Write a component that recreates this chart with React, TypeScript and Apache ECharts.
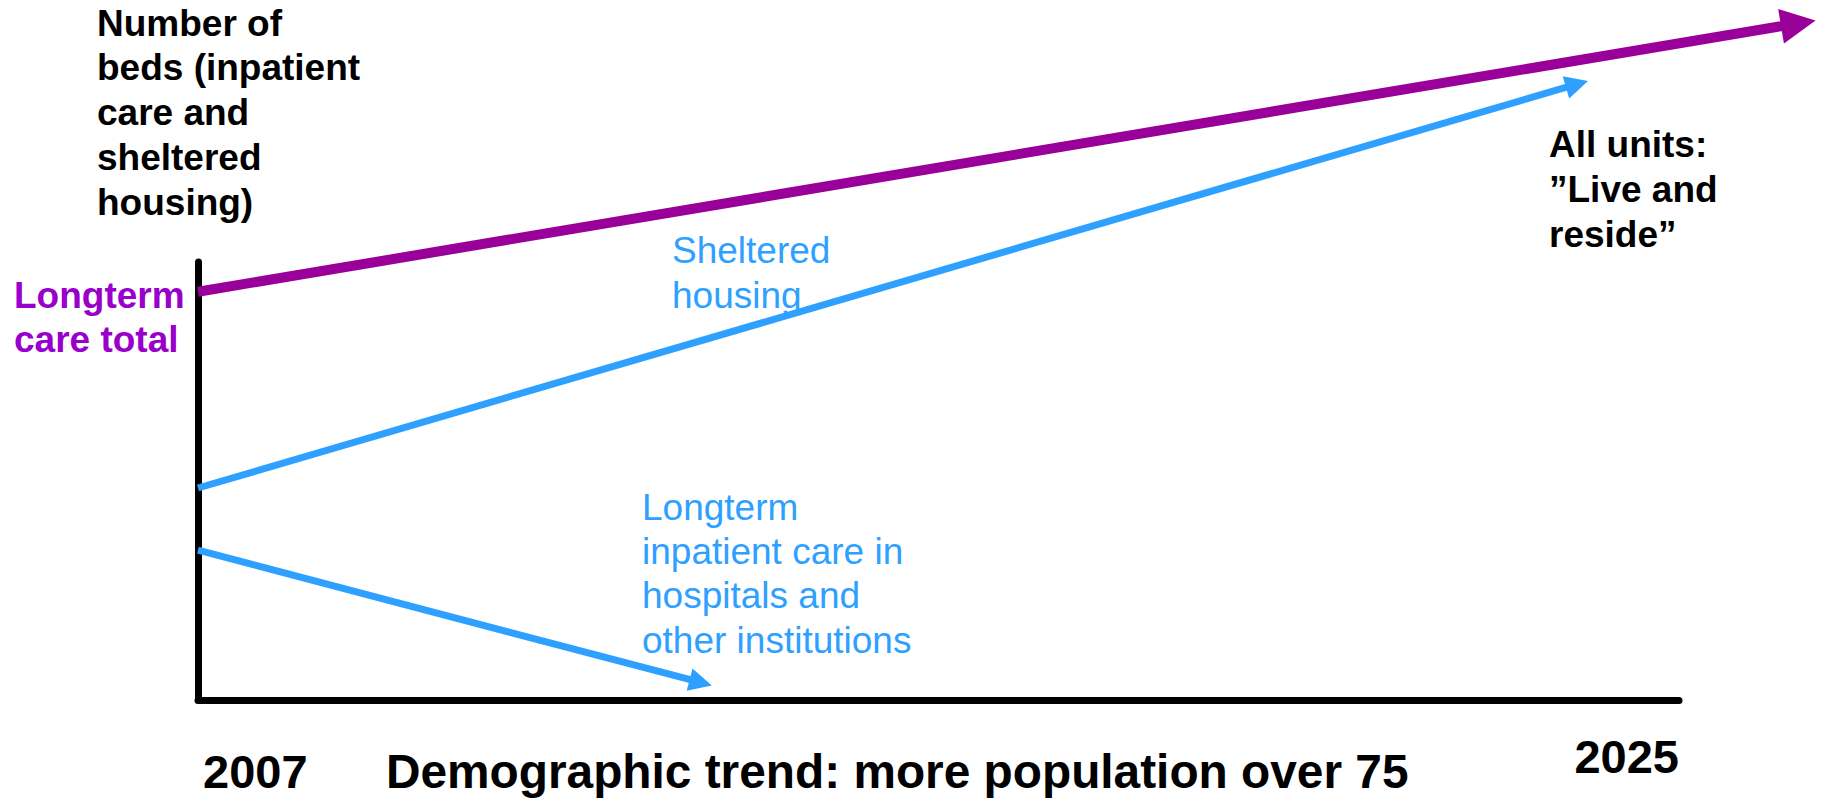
import React, { useEffect, useRef } from "react";
import * as echarts from "echarts";

// ---- data ----
const yearTicks = [2007, 2025];
const seriesNames = [
  "Longterm care total",
  "Sheltered housing",
  "Longterm inpatient care in hospitals and other institutions",
];
const startYears = [2007, 2007, 2007];
const startBeds = [93.2, 48.4, 34.2];
const endYears = [2026.45, 2023.76, 2013.11];
const endBeds = [154.5, 140.6, 4.0];

const yAxisTitle = ["Number of", "beds (inpatient", "care and", "sheltered", "housing)"];
const totalLabel = ["Longterm", "care total"];
const shelteredLabel = ["Sheltered", "housing"];
const inpatientLabel = ["Longterm", "inpatient care in", "hospitals and", "other institutions"];
const futureLabel = ["All units:", "\u201DLive and", "reside\u201D"];
const xAxisTitle = "Demographic trend: more population over 75";

// ---- styles ----
const FONT = '"Liberation Sans", Arial, Helvetica, sans-serif';
const PURPLE_LINE = "#990099";
const PURPLE_TEXT = "#9900CC";
const BLUE = "#2EA0FF";
const lineColors = [PURPLE_LINE, BLUE, BLUE];
const lineWidths = [10, 7, 7];
const arrowSizes = [35, 23, 23];

const topFor = (baseline: number, lh: number, fs: number) => baseline - lh / 2 - 0.3465 * fs;

const txt = (
  lines: string[],
  x: number,
  baseline: number,
  fs: number,
  lh: number,
  weight: string,
  color: string
) => ({
  type: "text",
  x,
  y: topFor(baseline, lh, fs),
  silent: true,
  style: {
    text: lines.join("\n"),
    fontFamily: FONT,
    fontSize: fs,
    fontWeight: weight,
    fill: color,
    lineHeight: lh,
    align: "left",
    verticalAlign: "top",
  },
});

export default function App() {
  const ref = useRef<HTMLDivElement>(null);
  useEffect(() => {
    if (!ref.current) return;
    const chart = echarts.init(ref.current, undefined, { renderer: "svg" });
    const labelStyle = { fontFamily: FONT, fontSize: 47, fontWeight: "bold", color: "#000" };
    chart.setOption({
      animation: false,
      backgroundColor: "#fff",
      grid: { left: 198, right: 147, top: 262, bottom: 98, containLabel: false },
      xAxis: {
        type: "value",
        min: yearTicks[0],
        max: yearTicks[1],
        interval: yearTicks[1] - yearTicks[0],
        axisLine: { show: true, onZero: false, lineStyle: { color: "#000", width: 7 } },
        axisTick: { show: false },
        splitLine: { show: false },
        axisLabel: {
          show: true,
          margin: 33,
          showMinLabel: true,
          showMaxLabel: true,
          alignMinLabel: "left",
          alignMaxLabel: "right",
          ...labelStyle,
          formatter: (v: number) => (v === yearTicks[0] ? `{lo|${v}}` : `{hi|${v}}`),
          rich: {
            lo: { ...labelStyle, lineHeight: 77, padding: [0, 0, 0, 5] },
            hi: { ...labelStyle, lineHeight: 47 },
          },
        },
      },
      yAxis: {
        type: "value",
        min: 0,
        max: 100,
        axisLine: { show: true, onZero: false, lineStyle: { color: "#000", width: 7 } },
        axisTick: { show: false },
        axisLabel: { show: false },
        splitLine: { show: false },
      },
      series: seriesNames.map((name, i) => ({
        type: "lines",
        name,
        coordinateSystem: "cartesian2d",
        clip: false,
        silent: true,
        z: 3,
        symbol: ["none", "triangle"],
        symbolSize: [1, arrowSizes[i]],
        lineStyle: { color: lineColors[i], width: lineWidths[i], opacity: 1, curveness: 0, cap: "butt" },
        data: [
          {
            coords: [
              [startYears[i], startBeds[i]],
              [endYears[i], endBeds[i]],
            ],
          },
        ],
      })),
      graphic: [
        txt(yAxisTitle, 97, 36, 37, 44.75, "bold", "#000"),
        txt(totalLabel, 14, 308, 37, 44, "bold", PURPLE_TEXT),
        txt(shelteredLabel, 672, 263, 37, 45, "normal", BLUE),
        txt(inpatientLabel, 642, 520, 37, 44.3, "normal", BLUE),
        txt(futureLabel, 1549, 157, 37, 45, "bold", "#000"),
        txt([xAxisTitle], 386, 788, 47.8, 48, "bold", "#000"),
      ],
    });
    return () => chart.dispose();
  }, []);
  return (
    <div
      ref={ref}
      style={{ position: "fixed", left: 0, top: 0, width: 1826, height: 798, background: "#fff" }}
    />
  );
}
